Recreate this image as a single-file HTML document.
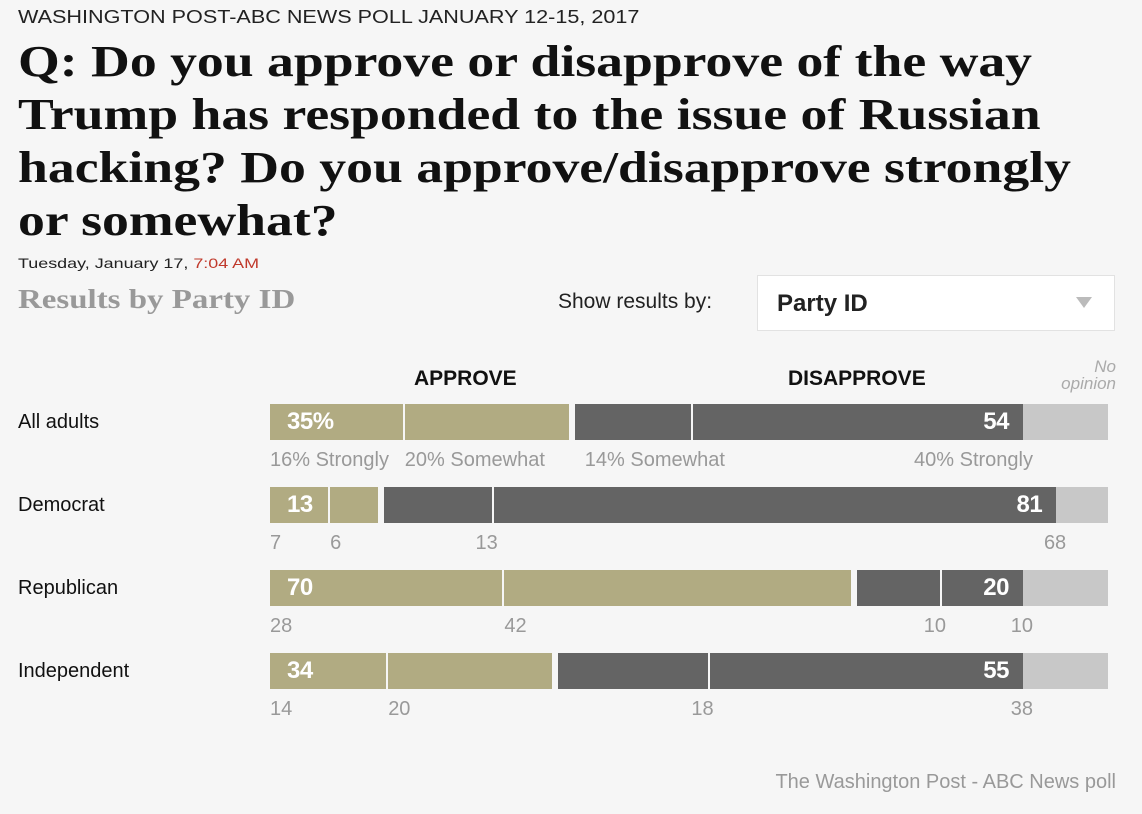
<!DOCTYPE html>
<html><head><meta charset="utf-8"><style>
body{margin:0;width:1142px;height:814px;background:#f6f6f6;font-family:"Liberation Sans",Arial,sans-serif;position:relative;overflow:hidden}
.a{position:absolute;white-space:nowrap}
.sx{transform-origin:left top}
.t{font-family:"Liberation Serif",serif;font-weight:bold;font-size:44px;line-height:53px;color:#111;left:18px;top:35px;transform:scaleX(1.22);transform-origin:left top}
.seg{position:absolute;height:36px}
.num{position:absolute;color:#fff;font-weight:bold;font-size:24px;top:5px;letter-spacing:-0.5px;white-space:nowrap}
.sub{position:absolute;color:#999;font-size:20px;white-space:nowrap}
</style></head><body>
<div class="a sx" style="left:18px;top:7px;font-size:18px;color:#222;transform:scaleX(1.2)">WASHINGTON POST-ABC NEWS POLL JANUARY 12-15, 2017</div>
<div class="a t">Q: Do you approve or disapprove of the way<br>Trump has responded to the issue of Russian<br>hacking? Do you approve/disapprove strongly<br>or somewhat?</div>
<div class="a sx" style="left:18px;top:255px;font-size:14px;color:#222;transform:scaleX(1.28)">Tuesday, January 17, <span style="color:#c0392b">7:04 AM</span></div>
<div class="a sx" style="left:18px;top:284px;font-family:'Liberation Serif',serif;font-weight:bold;font-size:27px;color:#999;transform:scaleX(1.22)">Results by Party ID</div>
<div class="a" style="left:558px;top:290px;font-size:21px;color:#222">Show results by:</div>
<div class="a" style="left:757px;top:275px;width:356px;height:54px;background:#fff;border:1px solid #e2e2e2">
<span class="a" style="left:19px;top:14px;font-size:24px;font-weight:bold;color:#222">Party ID</span>
<span class="a" style="right:22px;top:21px;width:0;height:0;border-left:8px solid transparent;border-right:8px solid transparent;border-top:11px solid #bbb"></span></div>
<div class="a" style="left:414px;top:367px;font-size:21px;font-weight:bold;color:#111">APPROVE</div>
<div class="a" style="left:788px;top:367px;font-size:21px;font-weight:bold;color:#111">DISAPPROVE</div>
<div class="a" style="right:26px;top:358px;font-size:17px;font-style:italic;color:#aaa;text-align:right;line-height:17px">No<br>opinion</div>
<div class="a" style="right:26px;top:771px;font-size:20px;color:#999">The Washington Post - ABC News poll</div>
<div id="chart"></div>
<script>
const groups=["All adults","Democrat","Republican","Independent"];
const approveStrong=[16,7,28,14];
const approveSome=[20,6,42,20];
const disSome=[14,13,10,18];
const disStrong=[40,68,10,38];
const approveTotal=["35%","13","70","34"];
const disTotal=["54","81","20","55"];
const X0=270,X1=1108,S=8.3,GAP=6,Y0=404,DY=83;
const c=document.getElementById('chart');
function mk(cls,css,txt){const e=document.createElement('div');e.className=cls;e.style.cssText=css;if(txt!=null)e.textContent=txt;c.appendChild(e);return e;}
groups.forEach((g,i)=>{
 const y=Y0+i*DY;
 const lab=mk('a',`left:18px;top:${y+7}px;font-size:20px;color:#111`,g);
 
 
 const xa1=X0+approveStrong[i]*S, xa2=xa1+approveSome[i]*S;
 const xd0=xa2+GAP, xd1=xd0+disSome[i]*S, xd2=xd1+disStrong[i]*S;
 const segs=[[X0,xa1,'#b1ab82'],[xa1+2,xa2,'#b1ab82'],[xd0,xd1,'#646464'],[xd1+2,xd2,'#646464'],[xd2,X1,'#c8c8c8']];
 const names=['approve-strongly-bar','approve-somewhat-bar','disapprove-somewhat-bar','disapprove-strongly-bar','no-opinion-bar'];
 segs.forEach((s,k)=>{const e=mk('seg',`left:${s[0]}px;top:${y}px;width:${s[1]-s[0]}px;background:${s[2]}`);
  
  });
 const n1=mk('num',`left:${X0+17}px;top:${y+4}px`,approveTotal[i]);
 
 
 const n2=mk('num',`left:${xd2-14}px;top:${y+4}px;transform:translateX(-100%)`,disTotal[i]);
 
 
 const ty=y+45;
 const sfx=i===0?["% Strongly","% Somewhat","% Somewhat","% Strongly"]:["","","",""];
 const l1=mk('sub',`left:${X0}px;top:${ty}px`,approveStrong[i]+sfx[0]);
 const l2=mk('sub',`left:${xa1+2}px;top:${ty}px`,approveSome[i]+sfx[1]);
 const l3=i===0?mk('sub',`left:${xd0+10}px;top:${ty}px`,disSome[i]+sfx[2]):mk('sub',`left:${xd1+6}px;top:${ty}px;transform:translateX(-100%)`,disSome[i]+sfx[2]);
 const l4=mk('sub',`left:${xd2+10}px;top:${ty}px;transform:translateX(-100%)`,disStrong[i]+sfx[3]);
 [l1,l2,l3,l4].forEach(l=>{
  
  });
});
</script>
</body></html>
